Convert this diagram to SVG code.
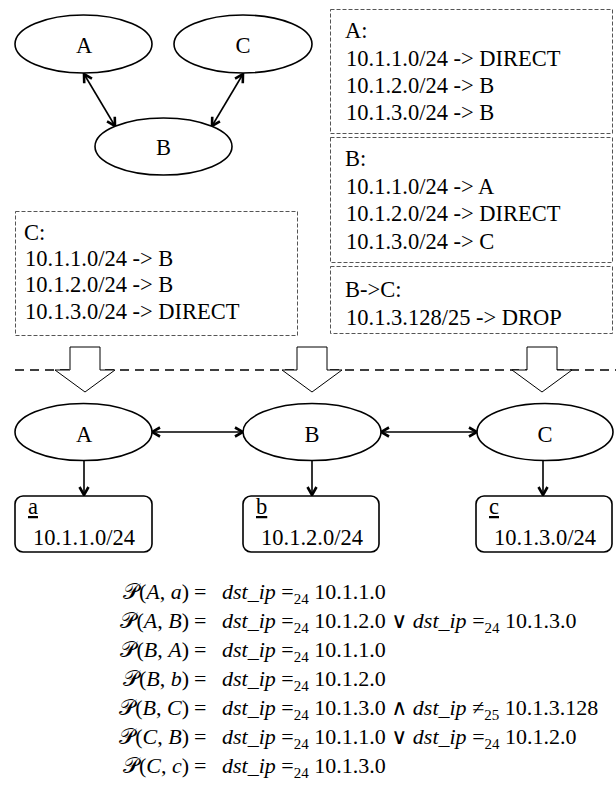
<svg xmlns="http://www.w3.org/2000/svg" width="616" height="798" viewBox="0 0 616 798">
<style>
.t{font-family:'Liberation Serif','DejaVu Serif',serif;font-size:22.5px;fill:#000}
.c{text-anchor:middle}
.eq{font-family:'Liberation Serif','DejaVu Serif',serif;font-size:22px;fill:#000}
.it{font-style:italic}
.sub{font-size:15px}
.node{fill:#fff;stroke:#000;stroke-width:1.6}
.tab{fill:none;stroke:#555;stroke-width:1;stroke-dasharray:4 2}
.edge{fill:none;stroke:#000;stroke-width:1.6}
.blk{fill:#fff;stroke:#000;stroke-width:1}
</style>
<defs>
<marker id="ah" viewBox="0 0 12 12" refX="10" refY="6" markerWidth="12" markerHeight="12" markerUnits="userSpaceOnUse" orient="auto-start-reverse">
<path d="M2,1.5 L10,6 L2,10.5" fill="none" stroke="#000" stroke-width="2.6"/>
</marker>
</defs>

<g id="connectors">
<line class="edge" x1="84" y1="74" x2="115" y2="126" marker-start="url(#ah)" marker-end="url(#ah)"/>
<line class="edge" x1="243" y1="74" x2="212" y2="126" marker-start="url(#ah)" marker-end="url(#ah)"/>
<line class="edge" x1="152" y1="432" x2="243" y2="432" marker-start="url(#ah)" marker-end="url(#ah)"/>
<line class="edge" x1="381" y1="432" x2="477" y2="432" marker-start="url(#ah)" marker-end="url(#ah)"/>
<line class="edge" x1="84" y1="461" x2="84" y2="495" marker-end="url(#ah)"/>
<line class="edge" x1="312" y1="461" x2="312" y2="495" marker-end="url(#ah)"/>
<line class="edge" x1="543" y1="461" x2="543" y2="495" marker-end="url(#ah)"/>
</g>

<g id="topA"><ellipse class="node" cx="83.5" cy="44" rx="68.5" ry="29"/><text class="t c" x="84" y="53">A</text></g>
<g id="topC"><ellipse class="node" cx="243" cy="44" rx="69" ry="29"/><text class="t c" x="243" y="53">C</text></g>
<g id="topB"><ellipse class="node" cx="163.5" cy="146.5" rx="68.5" ry="28.5"/><text class="t c" x="163.5" y="155">B</text></g>

<g id="tableA">
<rect class="tab" x="330.5" y="9.5" width="282" height="124"/>
<text class="t" x="345" y="38">A:</text>
<text class="t" x="346" y="66">10.1.1.0/24 -&gt; DIRECT</text>
<text class="t" x="346" y="93">10.1.2.0/24 -&gt; B</text>
<text class="t" x="346" y="120">10.1.3.0/24 -&gt; B</text>
</g>
<g id="tableB">
<rect class="tab" x="330.5" y="137.5" width="282" height="125"/>
<text class="t" x="345" y="166">B:</text>
<text class="t" x="346" y="194">10.1.1.0/24 -&gt; A</text>
<text class="t" x="346" y="221">10.1.2.0/24 -&gt; DIRECT</text>
<text class="t" x="346" y="249">10.1.3.0/24 -&gt; C</text>
</g>
<g id="tableBC">
<rect class="tab" x="330.5" y="266.5" width="282" height="67"/>
<text class="t" x="345" y="297">B-&gt;C:</text>
<text class="t" x="346" y="325">10.1.3.128/25 -&gt; DROP</text>
</g>
<g id="tableC">
<rect class="tab" x="15.5" y="211.5" width="282" height="124"/>
<text class="t" x="24" y="240">C:</text>
<text class="t" x="25" y="266">10.1.1.0/24 -&gt; B</text>
<text class="t" x="25" y="292">10.1.2.0/24 -&gt; B</text>
<text class="t" x="25" y="319">10.1.3.0/24 -&gt; DIRECT</text>
</g>

<g id="separator">
<line x1="15" y1="370" x2="616" y2="370" stroke="#000" stroke-width="1.6" stroke-dasharray="9 6"/>
</g>
<g id="compile">
<polygon class="blk" points="70,347 100,347 100,370 115,370 85,392 55,370 70,370"/>
<polygon class="blk" points="297,347 327,347 327,370 342,370 312,392 282,370 297,370"/>
<polygon class="blk" points="527,347 557,347 557,370 572,370 542,392 512,370 527,370"/>
</g>

<g id="nodeA"><ellipse class="node" cx="83.5" cy="432" rx="68.5" ry="28.5"/><text class="t c" x="84" y="442">A</text></g>
<g id="nodeB"><ellipse class="node" cx="312" cy="432" rx="69" ry="28.5"/><text class="t c" x="312" y="442">B</text></g>
<g id="nodeC"><ellipse class="node" cx="545" cy="432" rx="68" ry="28.5"/><text class="t c" x="545" y="442">C</text></g>

<g id="hosta"><rect class="node" x="15" y="496" width="137" height="56" rx="8"/><text class="t" x="28" y="514" text-decoration="underline">a</text><text class="t" x="33" y="545">10.1.1.0/24</text></g>
<g id="hostb"><rect class="node" x="243" y="496" width="136" height="56" rx="8"/><text class="t" x="256" y="514" text-decoration="underline">b</text><text class="t" x="261" y="545">10.1.2.0/24</text></g>
<g id="hostc"><rect class="node" x="476" y="496" width="136" height="56" rx="8"/><text class="t" x="489" y="514" text-decoration="underline">c</text><text class="t" x="494" y="545">10.1.3.0/24</text></g>

<g id="equations">
<text class="eq" x="189" y="599" text-anchor="end">𝒫(<tspan class="it">A</tspan>, <tspan class="it">a</tspan>)</text>
<text class="eq" x="194" y="599">=</text>
<text class="eq" x="222" y="599"><tspan class="it">dst_ip</tspan> =<tspan class="sub" dy="5">24</tspan><tspan dy="-5"> 10.1.1.0</tspan></text>
<text class="eq" x="189" y="628" text-anchor="end">𝒫(<tspan class="it">A</tspan>, <tspan class="it">B</tspan>)</text>
<text class="eq" x="194" y="628">=</text>
<text class="eq" x="222" y="628"><tspan class="it">dst_ip</tspan> =<tspan class="sub" dy="5">24</tspan><tspan dy="-5"> 10.1.2.0 ∨ </tspan><tspan class="it">dst_ip</tspan> =<tspan class="sub" dy="5">24</tspan><tspan dy="-5"> 10.1.3.0</tspan></text>
<text class="eq" x="189" y="657" text-anchor="end">𝒫(<tspan class="it">B</tspan>, <tspan class="it">A</tspan>)</text>
<text class="eq" x="194" y="657">=</text>
<text class="eq" x="222" y="657"><tspan class="it">dst_ip</tspan> =<tspan class="sub" dy="5">24</tspan><tspan dy="-5"> 10.1.1.0</tspan></text>
<text class="eq" x="189" y="686" text-anchor="end">𝒫(<tspan class="it">B</tspan>, <tspan class="it">b</tspan>)</text>
<text class="eq" x="194" y="686">=</text>
<text class="eq" x="222" y="686"><tspan class="it">dst_ip</tspan> =<tspan class="sub" dy="5">24</tspan><tspan dy="-5"> 10.1.2.0</tspan></text>
<text class="eq" x="189" y="715" text-anchor="end">𝒫(<tspan class="it">B</tspan>, <tspan class="it">C</tspan>)</text>
<text class="eq" x="194" y="715">=</text>
<text class="eq" x="222" y="715"><tspan class="it">dst_ip</tspan> =<tspan class="sub" dy="5">24</tspan><tspan dy="-5"> 10.1.3.0 ∧ </tspan><tspan class="it">dst_ip</tspan> ≠<tspan class="sub" dy="5">25</tspan><tspan dy="-5"> 10.1.3.128</tspan></text>
<text class="eq" x="189" y="744" text-anchor="end">𝒫(<tspan class="it">C</tspan>, <tspan class="it">B</tspan>)</text>
<text class="eq" x="194" y="744">=</text>
<text class="eq" x="222" y="744"><tspan class="it">dst_ip</tspan> =<tspan class="sub" dy="5">24</tspan><tspan dy="-5"> 10.1.1.0 ∨ </tspan><tspan class="it">dst_ip</tspan> =<tspan class="sub" dy="5">24</tspan><tspan dy="-5"> 10.1.2.0</tspan></text>
<text class="eq" x="189" y="773" text-anchor="end">𝒫(<tspan class="it">C</tspan>, <tspan class="it">c</tspan>)</text>
<text class="eq" x="194" y="773">=</text>
<text class="eq" x="222" y="773"><tspan class="it">dst_ip</tspan> =<tspan class="sub" dy="5">24</tspan><tspan dy="-5"> 10.1.3.0</tspan></text>
</g>
</svg>
